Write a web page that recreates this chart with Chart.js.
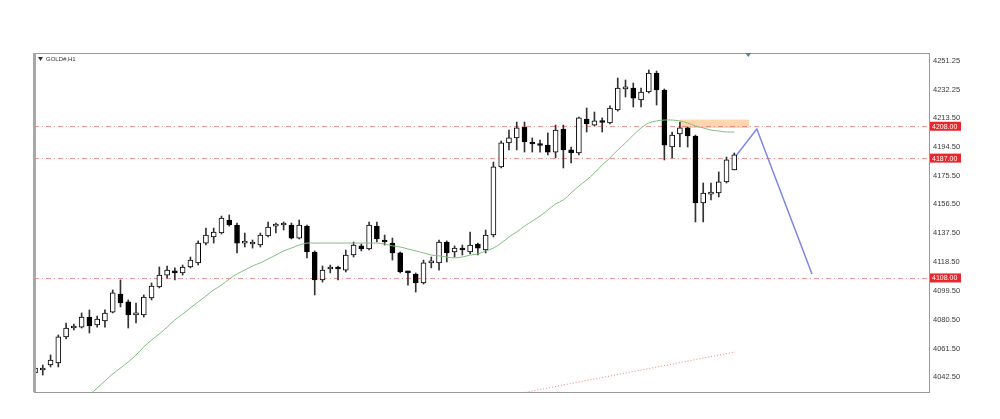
<!DOCTYPE html>
<html>
<head>
<meta charset="utf-8">
<title>GOLD#,H1</title>
<script src="https://cdn.jsdelivr.net/npm/chart.js@4.4.1/dist/chart.umd.min.js"></script>
<style>
  html, body { margin: 0; padding: 0; background: #fff; }
  #wrap { width: 1000px; height: 419px; position: relative; }
</style>
</head>
<body>
<div id="wrap"><canvas id="goldChart"></canvas></div>
<script>
// H1 candles, one per bar index (0..90)
const opens = [4045.3,4047.3,4050.6,4051.9,4069.1,4075.0,4075.6,4082.2,4077.0,4079.6,
  4085.5,4097.4,4092.2,4083.6,4083.6,4094.8,4102.0,4109.9,4112.6,4111.3,
  4115.2,4117.9,4131.0,4135.0,4137.6,4146.2,4142.9,4131.0,4130.4,4129.7,
  4135.7,4142.2,4142.9,4142.9,4134.3,4142.2,4125.1,4106.7,4113.9,4114.6,
  4113.2,4123.1,4129.1,4127.1,4142.2,4133.0,4131.0,4124.5,4111.9,4110.6,
  4104.7,4117.9,4117.9,4131.7,4125.1,4127.7,4125.1,4130.4,4126.4,4136.3,
  4181.2,4197.0,4200.3,4207.5,4197.0,4195.6,4195.6,4191.0,4206.2,4192.4,
  4190.4,4212.8,4208.8,4211.5,4210.2,4218.7,4232.6,4233.2,4225.3,4230.6,
  4243.1,4231.9,4194.3,4202.9,4206.9,4201.6,4157.4,4163.3,4164.0,4171.3,
  4179.2];
const closes = [4048.6,4047.9,4053.9,4069.1,4075.0,4075.6,4082.2,4076.3,4080.9,4084.9,
  4098.1,4091.5,4083.6,4084.2,4095.4,4102.7,4109.9,4113.2,4111.3,4115.2,
  4119.8,4131.0,4136.3,4138.3,4147.5,4142.9,4131.0,4131.7,4131.0,4136.3,
  4141.6,4142.9,4143.6,4134.3,4142.9,4125.1,4106.7,4113.2,4114.6,4113.9,
  4123.1,4129.7,4127.1,4142.9,4133.7,4131.7,4124.5,4111.9,4111.3,4104.7,
  4117.9,4118.5,4131.7,4124.5,4127.7,4126.4,4129.7,4127.7,4136.3,4181.2,
  4197.0,4200.3,4206.9,4197.6,4196.3,4195.3,4191.0,4205.5,4192.4,4190.4,
  4213.5,4209.5,4211.5,4210.5,4220.0,4233.2,4232.9,4226.6,4230.6,4243.1,
  4231.9,4195.6,4202.2,4206.9,4201.6,4157.4,4164.0,4164.0,4171.3,4185.8,
  4189.1];
const highs = [4050.6,4050.6,4057.2,4070.4,4078.3,4077.6,4084.9,4086.9,4082.9,4086.9,
  4100.1,4106.7,4093.5,4091.5,4096.8,4104.7,4115.2,4115.9,4114.6,4116.5,
  4121.8,4132.4,4140.9,4140.9,4148.8,4149.5,4144.2,4137.6,4133.0,4137.6,
  4144.9,4144.2,4144.9,4144.2,4146.2,4142.9,4125.8,4115.9,4116.5,4115.9,
  4126.4,4131.7,4130.4,4144.9,4144.9,4136.3,4134.3,4125.1,4112.6,4111.3,
  4119.8,4121.8,4133.0,4132.4,4129.1,4129.7,4138.3,4131.0,4139.6,4184.4,
  4198.3,4205.5,4210.8,4210.8,4200.3,4198.9,4203.6,4208.8,4208.8,4194.3,
  4214.1,4220.0,4217.4,4213.5,4221.4,4239.8,4238.5,4236.5,4233.2,4245.1,
  4244.4,4232.6,4204.2,4210.8,4207.5,4202.2,4170.6,4170.6,4177.9,4187.7,
  4190.4];
const lows = [4042.0,4044.0,4049.3,4049.3,4067.8,4073.7,4075.0,4071.7,4075.6,4075.6,
  4084.9,4088.9,4075.0,4078.3,4082.2,4093.5,4101.4,4107.9,4106.7,4109.9,
  4114.6,4116.5,4129.7,4131.0,4137.0,4142.2,4124.5,4128.4,4127.7,4128.4,
  4135.0,4137.6,4139.6,4133.7,4133.7,4121.2,4096.8,4105.3,4111.3,4106.7,
  4111.9,4121.8,4125.8,4126.4,4131.7,4129.7,4119.8,4111.3,4103.3,4098.7,
  4104.0,4114.6,4113.2,4118.5,4121.8,4123.1,4123.8,4123.1,4124.5,4135.0,
  4180.5,4192.4,4192.4,4191.0,4191.0,4191.0,4189.1,4187.1,4180.5,4183.8,
  4189.1,4204.2,4208.2,4204.2,4209.5,4218.0,4227.3,4220.7,4220.7,4229.9,
  4222.0,4185.8,4187.1,4194.3,4194.3,4144.9,4144.9,4159.4,4161.4,4170.6,
  4179.2];

// moving average (green), starts at bar 7
const maStart = 7;
const maValues = [4030.8,4035.4,4040.1,4044.7,4048.6,4052.6,4057.2,4062.5,4067.1,4071.1,
  4075.6,4080.3,4084.2,4088.2,4092.2,4096.1,4100.1,4103.3,4107.3,4110.6,
  4113.2,4115.9,4117.9,4120.5,4123.1,4125.8,4127.7,4129.7,4131.0,4131.0,
  4131.0,4131.0,4131.0,4131.0,4131.0,4131.0,4131.0,4131.0,4130.4,4129.1,
  4128.4,4127.1,4125.8,4124.5,4123.1,4122.5,4121.8,4121.2,4121.8,4123.1,
  4123.8,4125.8,4127.7,4131.0,4135.0,4138.3,4142.2,4145.5,4148.8,4152.8,
  4156.8,4159.4,4164.0,4168.6,4172.6,4177.2,4182.5,4187.1,4192.4,4197.0,
  4202.2,4206.9,4210.2,4211.5,4212.1,4212.1,4211.5,4210.2,4208.2,4206.9,
  4205.5,4204.9,4204.2,4204.2];

// projected path (blue)
const pathX = [90.3, 92.9, 100.0];
const pathY = [4189.0, 4206.2, 4110.6];

// lower dotted red line
const lowLineX = [62.0, 90.1];
const lowLineY = [4031.5, 4059.2];

// horizontal levels
const levelPrices = [4208.00, 4187.00, 4108.00];

// supply zone (orange box)
const zoneX = [83.0, 91.9];
const zoneY = [4206.9, 4212.4];

// price scale
const yTicks = [4042.50, 4061.50, 4080.50, 4099.50, 4118.50, 4137.50,
  4156.50, 4175.50, 4194.50, 4213.50, 4232.25, 4251.25];
const yMin = 4032.8, yMax = 4256.3;
const xMin = -0.13, xMax = 115.06;

const symbolTitle = 'GOLD#,H1';
const markerX = 91.8;

const isUp = opens.map((o, i) => closes[i] >= o);

const overlayPlugin = {
  id: 'mtOverlay',
  beforeDatasetsDraw(chart) {
    const { ctx, chartArea: a, scales: { x, y } } = chart;
    ctx.save();
    ctx.beginPath();
    ctx.rect(a.left, a.top, a.right - a.left, a.bottom - a.top);
    ctx.clip();
    // orange zone
    ctx.fillStyle = 'rgba(255, 196, 140, 0.7)';
    const zx0 = x.getPixelForValue(zoneX[0]), zx1 = x.getPixelForValue(zoneX[1]);
    const zy0 = y.getPixelForValue(zoneY[1]), zy1 = y.getPixelForValue(zoneY[0]);
    ctx.fillRect(zx0, zy0, zx1 - zx0, zy1 - zy0);
    // level lines
    ctx.strokeStyle = 'rgba(232, 110, 110, 0.7)';
    ctx.lineWidth = 1;
    ctx.setLineDash([5, 3, 1, 3]);
    levelPrices.forEach(p => {
      const py = Math.round(y.getPixelForValue(p)) + 0.5;
      ctx.beginPath();
      ctx.moveTo(a.left, py);
      ctx.lineTo(a.right, py);
      ctx.stroke();
    });
    ctx.restore();
  },
  afterDraw(chart) {
    const { ctx, chartArea: a, scales: { x, y } } = chart;
    ctx.save();
    // frame
    ctx.strokeStyle = '#9a9a9a';
    ctx.lineWidth = 1;
    ctx.strokeRect(a.left + 0.5, a.top + 0.5, a.right - a.left, a.bottom - a.top);
    ctx.fillStyle = '#a8a8a8';
    ctx.fillRect(a.left - 1, a.top, 3, a.bottom - a.top);
    // title
    ctx.fillStyle = '#333';
    ctx.beginPath();
    ctx.moveTo(a.left + 4, a.top + 4);
    ctx.lineTo(a.left + 9, a.top + 4);
    ctx.lineTo(a.left + 6.5, a.top + 8);
    ctx.closePath();
    ctx.fill();
    ctx.font = '6px "Liberation Sans", Arial, sans-serif';
    ctx.textBaseline = 'middle';
    ctx.fillText(symbolTitle, a.left + 12, a.top + 6);
    // marker at top
    const mx = x.getPixelForValue(markerX);
    ctx.fillStyle = '#5f7f8a';
    ctx.beginPath();
    ctx.moveTo(mx - 3, a.top);
    ctx.lineTo(mx + 3, a.top);
    ctx.lineTo(mx, a.top + 4);
    ctx.closePath();
    ctx.fill();
    // level price tags
    ctx.font = '7px "Liberation Sans", Arial, sans-serif';
    levelPrices.forEach(p => {
      const py = y.getPixelForValue(p);
      ctx.fillStyle = '#e8262c';
      ctx.fillRect(a.right + 1, py - 4.5, 31, 9);
      ctx.fillStyle = '#fff';
      ctx.textAlign = 'left';
      ctx.fillText(p.toFixed(2), a.right + 3, py + 0.5);
    });
    ctx.restore();
  }
};

new Chart(document.getElementById('goldChart'), {
  type: 'bar',
  data: {
    datasets: [
      {
        type: 'line',
        label: 'MA',
        data: maValues.map((v, i) => ({ x: maStart + i, y: v })),
        borderColor: '#7fbf7f',
        borderWidth: 1,
        pointRadius: 0,
        tension: 0.3,
        order: 1
      },
      {
        type: 'line',
        label: 'Path',
        data: pathX.map((v, i) => ({ x: v, y: pathY[i] })),
        borderColor: '#7f86e6',
        borderWidth: 1.5,
        pointRadius: 0,
        tension: 0,
        order: 0
      },
      {
        type: 'line',
        label: 'Low line',
        data: lowLineX.map((v, i) => ({ x: v, y: lowLineY[i] })),
        borderColor: 'rgba(232, 110, 110, 0.85)',
        borderWidth: 1,
        borderDash: [1, 2],
        pointRadius: 0,
        order: 1
      },
      {
        label: 'Bodies',
        data: opens.map((o, i) => ({ x: i, y: [o, closes[i]] })),
        backgroundColor: isUp.map(u => u ? '#ffffff' : '#000000'),
        borderColor: '#000000',
        borderWidth: 1,
        borderSkipped: false,
        barThickness: 5,
        minBarLength: 2,
        grouped: false,
        order: 2
      },
      {
        label: 'Wicks',
        data: lows.map((l, i) => ({ x: i, y: [l, highs[i]] })),
        backgroundColor: '#333333',
        borderWidth: 0,
        barThickness: 1,
        grouped: false,
        order: 3
      }
    ]
  },
  options: {
    responsive: true,
    maintainAspectRatio: false,
    animation: false,
    devicePixelRatio: 1,
    layout: { padding: { left: 34, top: 53, bottom: 27, right: 0 } },
    plugins: { legend: { display: false }, tooltip: { enabled: false } },
    scales: {
      x: {
        type: 'linear',
        min: xMin,
        max: xMax,
        offset: false,
        display: false
      },
      y: {
        position: 'right',
        min: yMin,
        max: yMax,
        grid: { display: false, drawTicks: false },
        border: { display: false },
        afterBuildTicks: s => { s.ticks = yTicks.map(v => ({ value: v })); },
        afterFit: s => { s.width = 71; },
        ticks: {
          padding: 4,
          color: '#3a3a3a',
          font: { family: '"Liberation Sans", Arial, sans-serif', size: 7.5 },
          callback: v => Number(v).toFixed(2)
        }
      }
    }
  },
  plugins: [overlayPlugin]
});
</script>
</body>
</html>
